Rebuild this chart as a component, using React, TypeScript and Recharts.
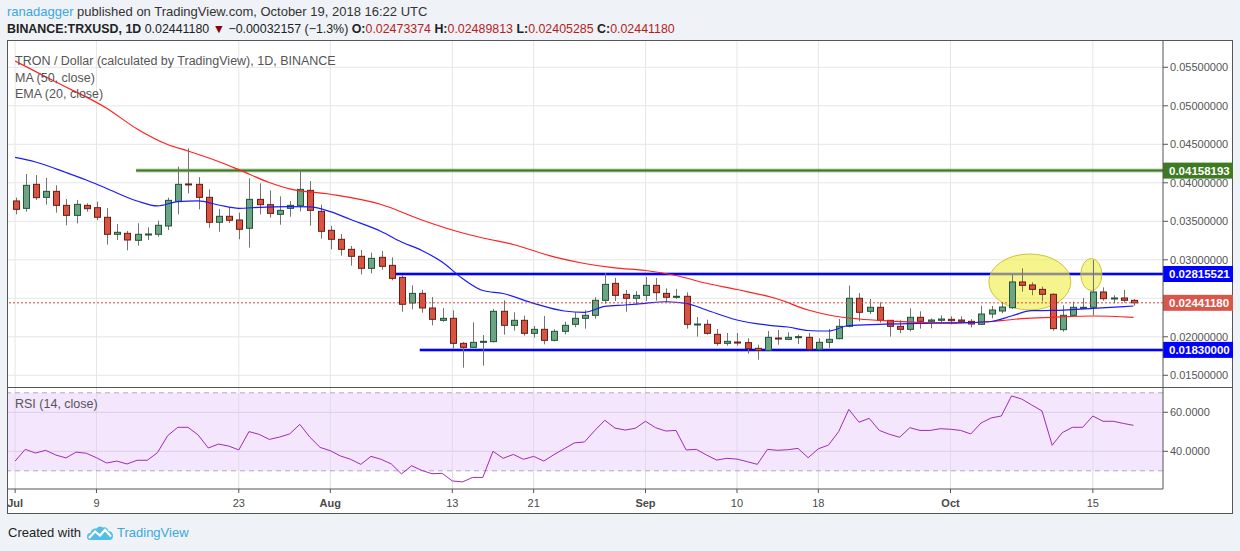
import {
  Bar,
  ComposedChart,
  Line,
  LineChart,
  ReferenceArea,
  ReferenceDot,
  ReferenceLine,
  XAxis,
  YAxis,
} from "recharts";

// TRX/USD daily candles, Jul 1 .. Oct 19 2018 (index = days since Jul 1)
const opens = [
  0.03764, 0.03668, 0.0398, 0.03811, 0.03889, 0.03707, 0.03577, 0.03707, 0.03677, 0.03552,
  0.03331, 0.03344, 0.03253, 0.03326, 0.03331, 0.03439, 0.03759, 0.03985, 0.0398, 0.03811,
  0.03487, 0.03565, 0.03517, 0.03409, 0.03785, 0.03716, 0.0359, 0.03668, 0.03703, 0.03902,
  0.03629, 0.03383, 0.03266, 0.03136, 0.03045, 0.02889, 0.03032, 0.02928, 0.02772, 0.02439,
  0.02564, 0.02374, 0.02214, 0.0224, 0.01915, 0.01863, 0.01928, 0.01937, 0.02331, 0.02149,
  0.02214, 0.02045, 0.02097, 0.01954, 0.02071, 0.02162, 0.0224, 0.02279, 0.02474, 0.02694,
  0.02551, 0.025, 0.02538, 0.02668, 0.02564, 0.02513, 0.02526, 0.02158, 0.02162, 0.02032,
  0.01915, 0.01932, 0.01924, 0.0185, 0.01824, 0.01984, 0.01967, 0.01993, 0.01993, 0.01837,
  0.01928, 0.01976, 0.02136, 0.025, 0.02331, 0.02383, 0.02214, 0.02136, 0.02097, 0.02253,
  0.02201, 0.02214, 0.02227, 0.02218, 0.02201, 0.02162, 0.02296, 0.02335, 0.02378, 0.02712,
  0.02673, 0.02616, 0.02552, 0.02093, 0.02279, 0.02374, 0.02383, 0.02582, 0.02495, 0.02504,
  0.02473374,
];
const highs = [
  0.03807, 0.04114, 0.04101, 0.04062, 0.03967, 0.0379, 0.03777, 0.03733, 0.03755, 0.03673,
  0.03465, 0.03374, 0.03474, 0.03422, 0.03508, 0.03807, 0.0421, 0.04448, 0.04075, 0.03915,
  0.0366, 0.03686, 0.03612, 0.04058, 0.03993, 0.03902, 0.03824, 0.03764, 0.04162, 0.04023,
  0.03716, 0.03439, 0.03335, 0.03179, 0.03127, 0.03093, 0.03114, 0.03032, 0.02794, 0.02668,
  0.02608, 0.02517, 0.02374, 0.02344, 0.01932, 0.02188, 0.02023, 0.02361, 0.02474, 0.02318,
  0.02274, 0.0214, 0.0227, 0.02097, 0.02196, 0.02318, 0.02344, 0.02513, 0.02829, 0.02764,
  0.02608, 0.02595, 0.02777, 0.02764, 0.02629, 0.02621, 0.02577, 0.02257, 0.02222, 0.02101,
  0.02049, 0.02049, 0.0198, 0.01898, 0.02075, 0.02088, 0.02058, 0.02028, 0.02049, 0.0198,
  0.02101, 0.02231, 0.02664, 0.02569, 0.02491, 0.02448, 0.02214, 0.02214, 0.0237, 0.02331,
  0.0224, 0.02279, 0.02266, 0.02266, 0.02231, 0.02404, 0.024, 0.02452, 0.02807, 0.02889,
  0.02707, 0.02651, 0.02564, 0.02409, 0.02456, 0.02504, 0.02997, 0.02642, 0.02539, 0.02608,
  0.02489813,
];
const lows = [
  0.0359, 0.03625, 0.03777, 0.03716, 0.03612, 0.03448, 0.03474, 0.03625, 0.03517, 0.03197,
  0.03257, 0.03123, 0.03184, 0.03257, 0.033, 0.03387, 0.0359, 0.03863, 0.03655, 0.03417,
  0.03365, 0.03478, 0.03266, 0.03158, 0.0359, 0.03547, 0.03456, 0.0356, 0.03629, 0.03443,
  0.03274, 0.03136, 0.03054, 0.02924, 0.02811, 0.02824, 0.02872, 0.02733, 0.02326, 0.02357,
  0.02313, 0.02149, 0.02196, 0.0185, 0.01599, 0.01863, 0.01625, 0.01928, 0.02028, 0.0208,
  0.02015, 0.01989, 0.01902, 0.01941, 0.02032, 0.02123, 0.02106, 0.02235, 0.0243, 0.02465,
  0.02326, 0.02413, 0.02465, 0.02469, 0.02448, 0.02491, 0.02106, 0.02002, 0.02028, 0.01885,
  0.01885, 0.01885, 0.01781, 0.01703, 0.01824, 0.01898, 0.01958, 0.01906, 0.01824, 0.01824,
  0.01855, 0.01967, 0.02123, 0.02201, 0.02296, 0.02184, 0.02002, 0.02045, 0.02071, 0.02106,
  0.0211, 0.02188, 0.02162, 0.02175, 0.02123, 0.02162, 0.0224, 0.02305, 0.02361, 0.02586,
  0.02539, 0.02461, 0.0208, 0.02067, 0.0227, 0.02357, 0.02279, 0.02469, 0.02435, 0.02443,
  0.02405285,
];
const closes = [
  0.03655, 0.03967, 0.03807, 0.03889, 0.03707, 0.03577, 0.0372, 0.03664, 0.03552, 0.03331,
  0.03357, 0.03257, 0.03331, 0.03335, 0.03448, 0.03772, 0.0398, 0.03976, 0.03811, 0.03487,
  0.03565, 0.03513, 0.03396, 0.03785, 0.03716, 0.03603, 0.03642, 0.03707, 0.03915, 0.03642,
  0.0337, 0.03266, 0.03136, 0.03045, 0.02889, 0.03019, 0.02915, 0.02759, 0.02422, 0.02564,
  0.02374, 0.02227, 0.0224, 0.01915, 0.01863, 0.01928, 0.01941, 0.02331, 0.02149, 0.02214,
  0.02045, 0.02097, 0.01954, 0.02071, 0.02149, 0.0224, 0.02279, 0.02474, 0.02681, 0.02538,
  0.025, 0.02538, 0.02668, 0.02573, 0.02513, 0.02526, 0.02162, 0.02166, 0.02045, 0.01915,
  0.01941, 0.01924, 0.01846, 0.01824, 0.01993, 0.01976, 0.01993, 0.02002, 0.01837, 0.01928,
  0.01967, 0.02136, 0.025, 0.02318, 0.02383, 0.02214, 0.02136, 0.02097, 0.02253, 0.02201,
  0.02218, 0.02231, 0.02209, 0.02201, 0.02166, 0.02296, 0.02348, 0.02387, 0.02712, 0.02668,
  0.02616, 0.02552, 0.02106, 0.02279, 0.02383, 0.02383, 0.02582, 0.02495, 0.02504, 0.02474,
  0.0244118,
];

// MA(50) and EMA(20) at sample days
const maDays = [0, 4, 9, 12, 15, 17, 20, 22, 25, 27, 31, 36, 40, 43, 46, 49, 53, 56, 59, 62, 65, 68, 71, 75, 78, 80, 83, 86, 90, 94, 97, 99, 102, 106, 110];
const maValues = [
  0.05582, 0.05309, 0.04968, 0.04699, 0.04497, 0.04413, 0.04277, 0.04171, 0.04004, 0.0392,
  0.03851, 0.03718, 0.03517, 0.03387, 0.03283, 0.03199, 0.03038, 0.02952, 0.02894, 0.02861,
  0.02796, 0.02695, 0.02614, 0.02491, 0.02348, 0.02283, 0.02231, 0.02205, 0.02183, 0.02183,
  0.0221, 0.02235, 0.02253, 0.0227, 0.02253,
];
const emaDays = [0, 2, 5, 7, 9, 12, 14, 16, 18, 20, 22, 24, 27, 29, 31, 33, 36, 38, 40, 42, 44, 46, 48, 51, 54, 56, 58, 60, 62, 64, 66, 68, 71, 74, 76, 78, 80, 82, 85, 89, 93, 96, 98, 100, 102, 106, 110];
const emaValues = [
  0.04329, 0.0427, 0.04134, 0.04036, 0.03926, 0.03764, 0.03699, 0.03755, 0.03764, 0.03712,
  0.03669, 0.03682, 0.0369, 0.03686, 0.03625, 0.03523, 0.03368, 0.03231, 0.03121, 0.02971,
  0.02757, 0.02601, 0.02562, 0.02435, 0.02335, 0.02318, 0.02394, 0.02413, 0.02435, 0.02455,
  0.02435, 0.02348, 0.02218, 0.02151, 0.02127, 0.02082, 0.02075, 0.02147, 0.02162, 0.02173,
  0.02182, 0.02199, 0.0227, 0.02339, 0.02342, 0.0237, 0.024,
];

// RSI(14)
const rsiValues = [
  35.0, 41.0, 39.1, 40.5, 38.1, 36.6, 39.6, 39.0, 36.7, 34.0,
  35.0, 33.5, 35.4, 35.4, 39.3, 48.0, 52.3, 52.3, 48.4, 41.7,
  43.7, 42.7, 40.7, 50.1, 48.7, 46.1, 47.3, 48.9, 53.8, 47.2,
  42.0, 40.3, 37.6, 35.9, 33.3, 37.4, 35.9, 33.5, 28.4, 32.6,
  30.2, 28.5, 28.7, 24.8, 24.3, 26.6, 26.6, 40.0, 36.4, 38.4,
  35.9, 37.4, 35.0, 38.3, 41.3, 44.3, 44.8, 50.6, 55.9, 51.9,
  50.9, 51.8, 55.4, 52.1, 50.4, 50.7, 40.7, 41.0, 38.1, 35.5,
  36.4, 36.0, 34.7, 33.3, 41.0, 40.5, 40.8, 41.5, 36.7, 41.3,
  43.2, 50.1, 61.5, 54.9, 56.9, 50.7, 48.7, 47.2, 52.1, 50.7,
  50.7, 51.6, 51.3, 50.7, 48.9, 54.5, 57.1, 58.1, 68.4, 66.8,
  63.7, 60.7, 43.1, 49.6, 52.3, 52.3, 58.1, 55.4, 55.4, 54.3,
  53.3,
];

const dateTicks = [0, 8, 22, 31, 43, 51, 62, 71, 79, 92, 106];
const dateLabels = ["Jul", "9", "23", "Aug", "13", "21", "Sep", "10", "18", "Oct", "15"];
const priceGrid = [0.015, 0.02, 0.025, 0.03, 0.035, 0.04, 0.045, 0.05, 0.055];
const priceTicks = [0.015, 0.02, 0.03, 0.035, 0.04, 0.045, 0.05, 0.055];
const rsiTicks = [40, 60];

// drawn levels: price and start day
const resistanceTop = { price: 0.04158193, from: 11.9 };
const rangeTop = { price: 0.02815521, from: 37.3 };
const rangeBottom = { price: 0.0183, from: 39.8 };
const lastPrice = 0.0244118;

// highlight ellipses
const highlights = [
  { day: 99.8, price: 0.02712, rx: 41, ry: 28 },
  { day: 105.85, price: 0.02809, rx: 10.5, ry: 16 },
];

const X_DOMAIN = [-0.7, 112.9];
const PRICE_DOMAIN = [0.01348, 0.058415];
const RSI_DOMAIN = [20.67, 72.46];
const FONT = "'Liberation Sans', Arial, sans-serif";

const data = closes.map((c, i) => {
  const mi = maDays.indexOf(i);
  const ei = emaDays.indexOf(i);
  return {
    day: i,
    range: [lows[i], highs[i]],
    o: opens[i],
    h: highs[i],
    l: lows[i],
    c,
    ma: mi >= 0 ? maValues[mi] : null,
    ema: ei >= 0 ? emaValues[ei] : null,
    rsi: rsiValues[i],
  };
});

const Candle = (props: any) => {
  const { x, y, width, height, payload } = props;
  if (!payload) return null;
  const { o, h, l, c } = payload;
  const span = h - l;
  const toY = (v: number) => (span > 0 ? y + ((h - v) / span) * height : y);
  const up = c >= o;
  const yTop = toY(Math.max(o, c));
  const yBot = toY(Math.min(o, c));
  const top = Math.min(yTop, yBot);
  const bh = Math.max(Math.abs(yBot - yTop), 1);
  const cx = Math.round(x + width / 2) + 0.5;
  return (
    <g>
      <line x1={cx} x2={cx} y1={toY(h)} y2={toY(l)} stroke="#737373" strokeWidth={1} />
      <rect
        x={cx - 3}
        y={top}
        width={6}
        height={bh}
        fill={up ? "#6ba583" : "#d75442"}
        stroke={up ? "#225437" : "#6d1c12"}
        strokeWidth={1}
      />
    </g>
  );
};

const AxisTag = (props: any) => {
  const { viewBox, price, fill } = props;
  if (!viewBox) return null;
  const right = viewBox.x + viewBox.width;
  const cy = viewBox.y;
  return (
    <g>
      <rect x={right} y={cy - 8} width={70} height={16} fill={fill} />
      <text
        x={right + 6}
        y={cy}
        dy="0.36em"
        fill="#ffffff"
        fontSize={11.5}
        fontWeight="bold"
        fontFamily={FONT}
      >
        {price.toFixed(8)}
      </text>
    </g>
  );
};

const ellipseShape = (rx: number, ry: number) => (p: any) =>
  (
    <ellipse
      cx={p.cx}
      cy={p.cy}
      rx={rx}
      ry={ry}
      fill="#f0ec40"
      fillOpacity={0.6}
      stroke="#c9c53a"
      strokeWidth={1}
    />
  );

const DateTick = (props: any) => {
  const { x, y, payload } = props;
  const label = dateLabels[dateTicks.indexOf(payload.value)];
  const month = isNaN(Number(label));
  return (
    <text
      x={x}
      y={y}
      dy="0.71em"
      textAnchor="middle"
      fontSize={11}
      fill="#4a4a4a"
      fontWeight={month ? "bold" : "normal"}
      fontFamily={FONT}
    >
      {label}
    </text>
  );
};

const levelLine = (lvl: { price: number; from: number }, core: string, halo: string, key: string) => [
  <ReferenceLine
    key={key + "-halo"}
    segment={[
      { x: lvl.from, y: lvl.price },
      { x: X_DOMAIN[1], y: lvl.price },
    ]}
    stroke={halo}
    strokeWidth={4}
    zIndex={150}
  />,
  <ReferenceLine
    key={key + "-core"}
    segment={[
      { x: lvl.from, y: lvl.price },
      { x: X_DOMAIN[1], y: lvl.price },
    ]}
    stroke={core}
    strokeWidth={2}
    zIndex={150}
  />,
];

export default function App() {
  const red = "#b71c1c";
  return (
    <div
      style={{
        position: "absolute",
        left: 0,
        top: 0,
        width: 1240,
        height: 551,
        background: "#eff2f6",
        fontFamily: FONT,
        overflow: "hidden",
      }}
    >
      <div style={{ position: "absolute", left: 7, top: 4, fontSize: 13, color: "#333", whiteSpace: "nowrap" }}>
        <span style={{ color: "#3ea7dc" }}>ranadagger</span> published on TradingView.com, October 19, 2018 16:22 UTC
      </div>
      <div style={{ position: "absolute", left: 7, top: 21.5, fontSize: 12.4, color: "#222", whiteSpace: "nowrap" }}>
        <b>BINANCE:TRXUSD, 1D</b> 0.02441180 <span style={{ color: "#8b0000" }}>▼</span> −0.00032157 (−1.3%){" "}
        <b>O:</b>
        <span style={{ color: red }}>0.02473374</span> <b>H:</b>
        <span style={{ color: red }}>0.02489813</span> <b>L:</b>
        <span style={{ color: red }}>0.02405285</span> <b>C:</b>
        <span style={{ color: red }}>0.02441180</span>
      </div>

      <div
        style={{
          position: "absolute",
          left: 7,
          top: 40,
          width: 1226,
          height: 474,
          boxSizing: "border-box",
          border: "1px solid #555",
          background: "#ffffff",
        }}
      />

      <div style={{ position: "absolute", left: 0, top: 41 }}>
        <ComposedChart width={1233} height={346} data={data} margin={{ top: 0, right: 0, bottom: 0, left: 8 }}>
          <XAxis dataKey="day" type="number" domain={X_DOMAIN} allowDataOverflow hide />
          <YAxis
            yAxisId={0}
            orientation="right"
            width={70}
            type="number"
            domain={PRICE_DOMAIN}
            allowDataOverflow
            ticks={priceTicks}
            tickFormatter={(v: number) => v.toFixed(8)}
            tick={{ fontSize: 11, fill: "#555", fontFamily: FONT }}
            tickSize={5}
            axisLine={{ stroke: "#555" }}
            tickLine={{ stroke: "#555" }}
          />
          {priceGrid.map((p) => (
            <ReferenceLine key={"hg" + p} y={p} stroke="#e6e6e6" zIndex={-100} />
          ))}
          {dateTicks.map((d) => (
            <ReferenceLine key={"vg" + d} x={d} stroke="#e6e6e6" zIndex={-100} />
          ))}
          {levelLine(resistanceTop, "#3b7a1c", "rgba(59,122,28,0.35)", "res")}
          {levelLine(rangeTop, "#0000ff", "rgba(0,0,255,0.3)", "top")}
          {levelLine(rangeBottom, "#0000ff", "rgba(0,0,255,0.3)", "bot")}
          {highlights.map((e, i) => (
            <ReferenceDot
              key={"hl" + i}
              x={e.day}
              y={e.price}
              r={e.rx}
              shape={ellipseShape(e.rx, e.ry)}
              zIndex={160}
            />
          ))}
          <Line
            dataKey="ma"
            type="monotone"
            stroke="#ff2020"
            strokeWidth={1.2}
            dot={false}
            connectNulls
            isAnimationActive={false}
          />
          <Line
            dataKey="ema"
            type="monotone"
            stroke="#1a1aff"
            strokeWidth={1.2}
            dot={false}
            connectNulls
            isAnimationActive={false}
          />
          <Bar dataKey="range" barSize={7} shape={Candle} isAnimationActive={false} />
          <ReferenceLine y={lastPrice} stroke="#e0443a" strokeDasharray="2 2" zIndex={450} />
          <ReferenceLine
            y={resistanceTop.price}
            stroke="none"
            label={(p: any) => <AxisTag {...p} price={resistanceTop.price} fill="#3e7a22" />}
          />
          <ReferenceLine
            y={rangeTop.price}
            stroke="none"
            label={(p: any) => <AxisTag {...p} price={rangeTop.price} fill="#0000ff" />}
          />
          <ReferenceLine
            y={lastPrice}
            stroke="none"
            label={(p: any) => <AxisTag {...p} price={lastPrice} fill="#d9574a" />}
          />
          <ReferenceLine
            y={rangeBottom.price}
            stroke="none"
            label={(p: any) => <AxisTag {...p} price={rangeBottom.price} fill="#0000ff" />}
          />
        </ComposedChart>
      </div>

      <div style={{ position: "absolute", left: 15, top: 53, fontSize: 12.5, color: "#555", lineHeight: "16.5px" }}>
        <div>TRON / Dollar (calculated by TradingView), 1D, BINANCE</div>
        <div>MA (50, close)</div>
        <div>EMA (20, close)</div>
      </div>

      <div style={{ position: "absolute", left: 7, top: 387, width: 1226, height: 1, background: "#555" }} />

      <div style={{ position: "absolute", left: 0, top: 388 }}>
        <LineChart width={1233} height={126} data={data} margin={{ top: 0, right: 0, bottom: 0, left: 8 }}>
          <XAxis
            dataKey="day"
            type="number"
            domain={X_DOMAIN}
            allowDataOverflow
            ticks={dateTicks}
            tick={DateTick}
            height={25}
            tickSize={4}
            tickMargin={6}
            axisLine={{ stroke: "#555" }}
            tickLine={{ stroke: "#555" }}
          />
          <YAxis
            orientation="right"
            width={70}
            type="number"
            domain={RSI_DOMAIN}
            allowDataOverflow
            ticks={rsiTicks}
            tickFormatter={(v: number) => v.toFixed(4)}
            tick={{ fontSize: 11, fill: "#555", fontFamily: FONT }}
            tickSize={5}
            axisLine={{ stroke: "#555" }}
            tickLine={{ stroke: "#555" }}
          />
          <ReferenceArea y1={30} y2={70} fill="#f3e6fd" fillOpacity={1} stroke="none" zIndex={-200} />
          {dateTicks.map((d) => (
            <ReferenceLine key={"rv" + d} x={d} stroke="#e1dae8" zIndex={-100} />
          ))}
          {rsiTicks.map((v) => (
            <ReferenceLine key={"rh" + v} y={v} stroke="#dccde8" zIndex={-100} />
          ))}
          <ReferenceLine y={70} stroke="#b5a8bf" strokeDasharray="5 4" zIndex={-90} />
          <ReferenceLine y={30} stroke="#b5a8bf" strokeDasharray="5 4" zIndex={-90} />
          <Line
            dataKey="rsi"
            type="linear"
            stroke="#a12bb8"
            strokeWidth={1}
            dot={false}
            isAnimationActive={false}
          />
        </LineChart>
      </div>

      <div style={{ position: "absolute", left: 15, top: 397, fontSize: 12.5, color: "#555" }}>RSI (14, close)</div>

      <div style={{ position: "absolute", left: 8, top: 525, fontSize: 13, color: "#222", whiteSpace: "nowrap" }}>
        Created with
      </div>
      <svg style={{ position: "absolute", left: 87, top: 525 }} width={26} height={15} viewBox="0 0 26 15">
        <path
          d="M3 15 Q0 15 0 11.5 Q0 8 3.5 8 Q4.5 3 9.5 3.5 Q12 0 16 2.5 Q20 1.5 21.5 6 Q26 6.5 26 11 Q26 15 22 15 Z"
          fill="#55bde9"
        />
        <polyline points="2,13 8,6.5 13,10.5 18,5 24,11.5" fill="none" stroke="#ffffff" strokeWidth={2.2} />
      </svg>
      <div style={{ position: "absolute", left: 117, top: 525, fontSize: 13, color: "#3ea7dc", whiteSpace: "nowrap" }}>
        TradingView
      </div>
    </div>
  );
}
